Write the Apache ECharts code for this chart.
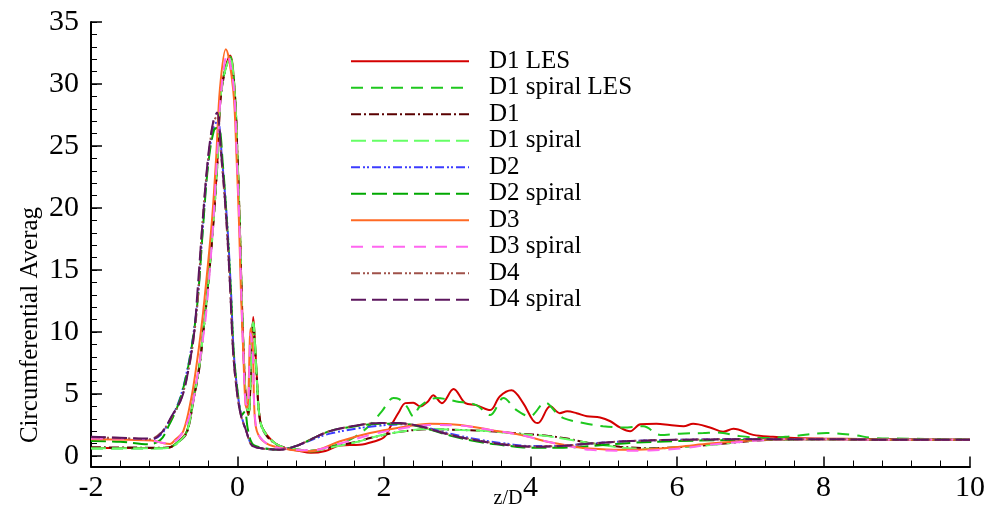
<!DOCTYPE html>
<html><head><meta charset="utf-8">
<script src="https://cdn.jsdelivr.net/npm/echarts@6/dist/echarts.min.js"></script>
<style>html,body{margin:0;padding:0;background:#fff}#c{width:993px;height:512px}</style>
</head><body><div id="c"></div>
<script>
// ---- data (z/D, value) ----
var names = ['D1 LES','D1 spiral LES','D1','D1 spiral','D2','D2 spiral','D3','D3 spiral','D4','D4 spiral'];
var xTicks = [-2,0,2,4,6,8,10];
var yTicks = [0,5,10,15,20,25,30,35];

var d1les = [[-2,0.65],[-1.5,0.65],[-1.0,0.65],[-0.92,0.7],[-0.8,1.2],[-0.69,2.0],[-0.6,4.7],[-0.52,7.3],[-0.47,10],[-0.42,12.7],[-0.33,18.9],[-0.27,24.2],[-0.22,29.6],[-0.1,32.3],[-0.04,29.6],[0.0,24.2],[0.03,18.9],[0.055,13.5],[0.085,8.15],[0.12,4.1],[0.15,3.3],[0.19,8],[0.215,11.2],[0.24,9],[0.26,6.8],[0.31,2.8],[0.4,1.7],[0.58,0.78],[0.85,0.4],[1.0,0.25],[1.2,0.4],[1.4,0.85],[1.67,0.9],[1.85,1.15],[2.0,1.5],[2.1,2.5],[2.2,3.5],[2.29,4.26],[2.4,4.3],[2.49,4.0],[2.6,4.4],[2.67,4.9],[2.79,4.26],[2.95,5.4],[3.11,4.26],[3.26,4.1],[3.45,3.7],[3.58,4.8],[3.74,5.3],[3.9,4.26],[4.03,2.9],[4.1,2.65],[4.27,4.0],[4.4,3.45],[4.5,3.6],[4.63,3.45],[4.77,3.2],[4.95,3.1],[5.09,2.8],[5.22,2.3],[5.36,2.0],[5.5,2.55],[5.72,2.6],[5.9,2.5],[6.09,2.4],[6.22,2.6],[6.45,2.3],[6.63,1.95],[6.77,2.2],[7.04,1.7],[7.31,1.55],[7.6,1.45],[8,1.4],[9,1.35],[10,1.3]];
var d1spLes = [[-2,0.6],[-1.5,0.6],[-1.0,0.62],[-0.92,0.68],[-0.8,1.2],[-0.69,2.0],[-0.6,4.7],[-0.52,7.3],[-0.47,10],[-0.42,12.7],[-0.33,18.9],[-0.27,24.2],[-0.22,29.6],[-0.1,32.2],[-0.04,29.6],[0.0,24.2],[0.03,18.9],[0.055,13.5],[0.085,8.15],[0.12,4.1],[0.15,3.3],[0.19,8.5],[0.215,11.0],[0.24,9],[0.26,6.8],[0.31,2.8],[0.4,1.7],[0.58,0.78],[0.85,0.45],[1.0,0.35],[1.3,0.8],[1.58,1.45],[1.81,2.5],[1.97,3.6],[2.13,4.67],[2.2,4.6],[2.31,4.0],[2.4,3.2],[2.49,4.0],[2.72,4.67],[2.99,4.4],[3.26,4.1],[3.45,3.3],[3.63,4.67],[3.81,3.7],[3.99,3.2],[4.2,4.3],[4.36,3.45],[4.45,3.05],[4.72,2.65],[4.99,2.4],[5.27,2.3],[5.54,2.4],[5.77,1.7],[6.04,1.8],[6.36,1.85],[6.54,1.9],[6.86,1.6],[7.22,1.45],[7.58,1.6],[8.04,1.85],[8.4,1.7],[8.68,1.45],[9,1.4],[10,1.35]];
var d1 = [[-2,0.7],[-1.5,0.68],[-1.0,0.66],[-0.92,0.7],[-0.8,1.15],[-0.69,1.9],[-0.6,4.5],[-0.52,7.1],[-0.47,9.8],[-0.42,12.5],[-0.33,18.7],[-0.27,24.0],[-0.22,29.4],[-0.11,32.0],[-0.04,29.4],[0.0,24.0],[0.03,18.7],[0.055,13.3],[0.085,8.0],[0.12,4.2],[0.15,3.5],[0.19,8.2],[0.215,10.5],[0.24,8.5],[0.26,6.5],[0.31,2.8],[0.4,1.6],[0.58,0.8],[0.85,0.5],[1.0,0.42],[1.3,0.75],[1.67,1.2],[1.81,1.45],[2.22,1.95],[2.63,2.15],[3.04,2.1],[3.45,2.0],[3.86,1.8],[4.2,1.65],[4.5,1.4],[4.81,1.05],[5.22,0.75],[5.63,0.62],[6.04,0.72],[6.45,0.9],[6.86,1.12],[7.23,1.28],[8,1.35],[9,1.3],[10,1.3]];
var d1sp = [[-2,0.62],[-1.5,0.62],[-1.0,0.63],[-0.92,0.68],[-0.8,1.15],[-0.69,1.95],[-0.6,4.6],[-0.52,7.2],[-0.47,9.9],[-0.42,12.6],[-0.33,18.8],[-0.27,24.1],[-0.22,29.5],[-0.1,32.1],[-0.04,29.5],[0.0,24.1],[0.03,18.8],[0.055,13.4],[0.085,8.1],[0.12,4.15],[0.15,3.4],[0.19,8.3],[0.215,10.8],[0.24,8.8],[0.26,6.6],[0.31,2.8],[0.4,1.65],[0.58,0.8],[0.85,0.5],[1.0,0.42],[1.3,0.72],[1.67,1.18],[1.81,1.45],[2.22,1.95],[2.63,2.17],[3.04,2.1],[3.45,2.0],[3.86,1.75],[4.2,1.62],[4.5,1.35],[4.81,1.05],[5.22,0.68],[5.63,0.58],[6.04,0.72],[6.45,0.88],[6.86,1.15],[7.23,1.3],[8,1.35],[9,1.3],[10,1.3]];
var d2 = [[-2,1.45],[-1.6,1.4],[-1.2,1.3],[-1.05,1.7],[-0.95,2.6],[-0.8,4.4],[-0.68,7.1],[-0.6,9.9],[-0.54,12.9],[-0.47,18.7],[-0.4,23.8],[-0.32,26.6],[-0.27,27.0],[-0.21,23.8],[-0.14,18.7],[-0.09,13.4],[-0.05,8.2],[0.01,4.7],[0.06,3.1],[0.12,2.0],[0.19,0.95],[0.3,0.65],[0.58,0.52],[0.8,0.8],[0.99,1.25],[1.26,1.8],[1.67,2.25],[1.95,2.45],[2.22,2.55],[2.49,2.4],[2.9,1.8],[3.31,1.3],[3.72,0.95],[4.0,0.8],[4.4,0.82],[4.81,1.0],[5.36,1.2],[6.0,1.3],[7.0,1.35],[8,1.35],[9,1.3],[10,1.3]];
var d2sp = [[-2,1.2],[-1.6,1.15],[-1.2,0.95],[-1.05,1.3],[-0.95,2.3],[-0.8,4.3],[-0.68,7.0],[-0.6,9.8],[-0.54,12.8],[-0.47,18.5],[-0.4,23.5],[-0.32,26.3],[-0.26,26.5],[-0.2,23.5],[-0.14,18.5],[-0.09,13.3],[-0.05,8.3],[0.01,4.8],[0.06,3.3],[0.1,3.6],[0.14,2.2],[0.2,1.0],[0.3,0.7],[0.58,0.5],[0.8,0.8],[0.99,1.3],[1.26,2.0],[1.67,2.45],[1.95,2.6],[2.22,2.6],[2.49,2.35],[2.9,1.65],[3.31,1.12],[3.72,0.8],[4.0,0.66],[4.4,0.66],[4.81,0.8],[5.36,1.05],[6.0,1.2],[7.0,1.3],[8,1.35],[9,1.3],[10,1.3]];
var d3 = [[-2,1.35],[-1.5,1.3],[-1.17,1.25],[-0.99,1.0],[-0.92,0.97],[-0.85,1.3],[-0.74,2.0],[-0.63,4.7],[-0.56,7.3],[-0.5,10],[-0.45,12.7],[-0.35,18.9],[-0.29,24.2],[-0.24,29.6],[-0.16,32.8],[-0.06,29.6],[-0.014,24.2],[0.02,18.9],[0.046,13.5],[0.08,8.15],[0.11,4.1],[0.135,3.9],[0.18,10.3],[0.21,8.5],[0.24,2.8],[0.31,1.45],[0.49,0.78],[0.99,0.38],[1.4,1.18],[1.81,1.85],[2.22,2.3],[2.63,2.6],[3.04,2.5],[3.45,2.1],[3.86,1.7],[4.27,1.1],[4.6,0.75],[4.81,0.6],[5.22,0.5],[5.63,0.55],[6.04,0.75],[6.45,1.0],[7.0,1.25],[7.5,1.35],[8,1.35],[9,1.3],[10,1.3]];
var d3sp = [[-2,1.4],[-1.5,1.4],[-1.2,1.3],[-1.0,1.05],[-0.9,1.1],[-0.8,1.45],[-0.65,3.3],[-0.56,6.0],[-0.49,8.7],[-0.43,11.4],[-0.34,18],[-0.28,24],[-0.22,29.6],[-0.14,32.4],[-0.05,29.6],[-0.01,24.2],[0.025,18.9],[0.05,13.5],[0.08,8.15],[0.11,4.3],[0.14,4.0],[0.18,9.9],[0.21,8.0],[0.24,3.0],[0.31,1.5],[0.49,0.75],[0.8,0.5],[1.0,0.45],[1.4,1.0],[1.81,1.7],[2.22,2.2],[2.63,2.5],[3.04,2.45],[3.45,2.1],[3.86,1.7],[4.27,1.1],[4.6,0.7],[4.81,0.5],[5.22,0.42],[5.63,0.45],[6.04,0.6],[6.45,0.9],[7.0,1.2],[7.5,1.35],[8,1.35],[9,1.3],[10,1.3]];
var d4 = [[-2,1.5],[-1.6,1.45],[-1.2,1.35],[-1.04,1.9],[-0.9,3.1],[-0.77,4.6],[-0.66,7.2],[-0.59,9.9],[-0.54,12.8],[-0.48,18.7],[-0.4,24.0],[-0.33,26.9],[-0.28,27.4],[-0.22,24.0],[-0.15,18.7],[-0.1,13.4],[-0.057,8.1],[0.0,4.8],[0.05,3.2],[0.12,2.0],[0.19,0.9],[0.3,0.64],[0.58,0.5],[0.8,0.8],[0.99,1.3],[1.26,2.0],[1.67,2.5],[1.95,2.65],[2.22,2.62],[2.49,2.4],[2.9,1.72],[3.31,1.22],[3.72,0.88],[4.0,0.77],[4.4,0.8],[4.81,1.0],[5.36,1.2],[6.0,1.3],[7.0,1.35],[8,1.35],[9,1.3],[10,1.3]];
var d4sp = [[-2,1.55],[-1.5,1.45],[-1.15,1.4],[-1.02,2.0],[-0.9,3.2],[-0.76,4.7],[-0.66,7.3],[-0.59,10],[-0.55,13.0],[-0.476,18.9],[-0.4,24.2],[-0.33,27.0],[-0.28,27.7],[-0.22,24.2],[-0.15,18.9],[-0.1,13.5],[-0.057,8.15],[0.0,4.8],[0.05,3.2],[0.12,2.0],[0.19,0.9],[0.3,0.64],[0.58,0.5],[0.8,0.8],[0.99,1.3],[1.26,2.0],[1.67,2.5],[1.95,2.65],[2.22,2.65],[2.49,2.4],[2.9,1.7],[3.31,1.2],[3.72,0.86],[4.0,0.75],[4.4,0.8],[4.81,1.0],[5.36,1.2],[6.0,1.3],[7.0,1.35],[8,1.35],[9,1.3],[10,1.3]];

var seriesData = [d1les, d1spLes, d1, d1sp, d2, d2sp, d3, d3sp, d4, d4sp];
var colors = ['#d40000','#1ec81e','#5a0000','#66ff66','#3c3cff','#00a800','#ff6a24','#ff66f0','#a0524a','#5c165e'];
var dashes = ['solid',[12,8],[10,3,2,3],[15,6],[9,3,2,2,2,3],[15,6],'solid',[12,9],[9,3,2,2,2,3],[15,6]];

var minorY = [];
for (var i = 0; i <= 35; i++) { minorY.push(i); }

var SERIF = 'Liberation Serif, Times New Roman, serif';
var chart = echarts.init(document.getElementById('c'), null, {renderer:'canvas'});
var series = names.map(function(n, i){
  return {
    name: n, type: 'line', data: seriesData[i], smooth: 0.35, symbol: 'none',
    lineStyle: {color: colors[i], width: 2, type: dashes[i]},
    itemStyle: {color: colors[i]}, z: 2 + i, animation: false
  };
});
chart.setOption({
  animation: false,
  backgroundColor: '#fff',
  grid: {left: 91, right: 23, top: 22, bottom: 45.5},
  legend: {
    orient: 'vertical', left: 350, top: 48.7, padding: 0,
    itemWidth: 118, itemHeight: 24, itemGap: 1.5,
    data: names,
    itemStyle: {opacity: 0},
    textStyle: {fontFamily: SERIF, fontSize: 25, color: '#000', lineHeight: 24, padding: [0,0,0,15]}
  },
  xAxis: {
    type: 'value', min: -2, max: 10, interval: 2,
    axisLine: {show: true, onZero: false, lineStyle: {color: '#000', width: 2}},
    axisTick: {show: true, inside: true, length: 10, lineStyle: {color: '#000', width: 1.5}},
    minorTick: {show: true, splitNumber: 5, length: 6, lineStyle: {color: '#000', width: 1}},
    axisLabel: {fontFamily: SERIF, fontSize: 30, color: '#000', margin: 7},
    splitLine: {show: false}
  },
  yAxis: [{
    type: 'value', min: -0.85, max: 35,
    axisLine: {show: true, onZero: false, lineStyle: {color: '#000', width: 2}},
    axisTick: {show: true, inside: true, length: 11, customValues: yTicks, lineStyle: {color: '#000', width: 1.5}},
    axisLabel: {fontFamily: SERIF, fontSize: 30, color: '#000', margin: 12, customValues: yTicks},
    splitLine: {show: false}
  },{
    type: 'value', min: -0.85, max: 35, position: 'left',
    axisLine: {show: false, onZero: false},
    axisTick: {show: true, inside: true, length: 6, customValues: minorY, lineStyle: {color: '#000', width: 1}},
    axisLabel: {show: false},
    splitLine: {show: false}
  }],
  graphic: [
    {type: 'text', x: 30, y: 325, rotation: Math.PI/2,
     style: {text: 'Circumferential Averag', font: '25px ' + SERIF, fill: '#000', align: 'center', verticalAlign: 'middle'}},
    {type: 'text', x: 508, y: 499,
     style: {text: 'z/D', font: '20px ' + SERIF, fill: '#000', align: 'center', verticalAlign: 'middle'}}
  ],
  series: series
});
</script></body></html>
